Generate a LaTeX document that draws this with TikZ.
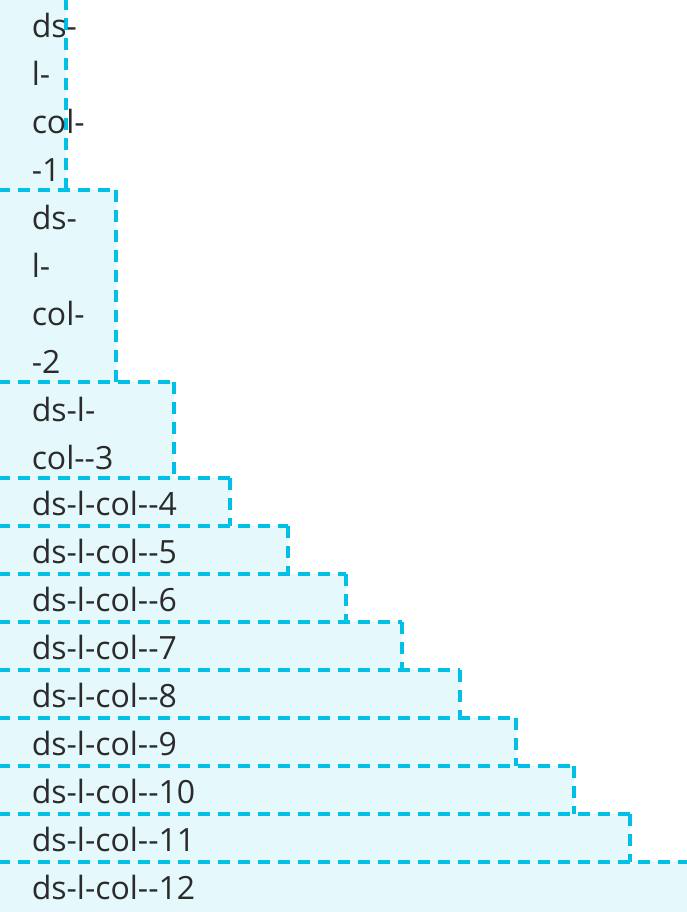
\documentclass[tikz,border=0pt]{standalone}
\usepackage{fontspec}
\newfontfamily\dsfont{Open Sans}
\usepackage{tikz}
\definecolor{dsline}{HTML}{00C0E8}
\definecolor{dsfill}{HTML}{E5F8FC}
\definecolor{dstext}{HTML}{2B2B2B}

\begin{document}
\begin{tikzpicture}[x=1pt,y=-1pt,line width=3.5pt]
        \tikzstyle{col fill}=[fill=dsfill,draw=none]
        \tikzstyle{col edge}=[draw=dsline,dash pattern=on 12pt off 8pt]
        \tikzstyle{col label}=[anchor=west,align=left,inner sep=0pt,text=dstext,font=\dsfont\fontsize{32}{48}\selectfont]
        \useasboundingbox (0,0) rectangle (686,912);
        % boxes: top/bottom/right
        \foreach \t/\b/\r in {-2/190/66,190/382/116,382/478/174,478/526/230,526/574/288,574/622/346,
                              622/670/402,670/718/460,718/766/516,766/814/574,814/862/630,862/920/700}
            \path[col fill] (-10,\t) rectangle (\r,\b);
        \foreach \t/\b/\r in {-2/190/66,190/382/116,382/478/174,478/526/230,526/574/288,574/622/346,
                              622/670/402,670/718/460,718/766/516,766/814/574,814/862/630,862/920/700}
            \path[col edge] (-2,\t) -- (\r,\t) (\r,\t) -- (\r,\b) (-2,\b) -- (\r,\b);
        % labels
        \node[col label] (c1)  at (30,97)  {ds-\\l-\\col-\\-1};
        \node[col label] (c2)  at (30,289) {ds-\\l-\\col-\\-2};
        \node[col label] (c3)  at (30,433) {ds-l-\\col--3};
        \node[col label] (c4)  at (30,503) {ds-l-col--4};
        \node[col label] (c5)  at (30,551) {ds-l-col--5};
        \node[col label] (c6)  at (30,599) {ds-l-col--6};
        \node[col label] (c7)  at (30,647) {ds-l-col--7};
        \node[col label] (c8)  at (30,695) {ds-l-col--8};
        \node[col label] (c9)  at (30,743) {ds-l-col--9};
        \node[col label] (c10) at (30,791) {ds-l-col--10};
        \node[col label] (c11) at (30,839) {ds-l-col--11};
        \node[col label] (c12) at (30,887) {ds-l-col--12};
\end{tikzpicture}
\end{document}
